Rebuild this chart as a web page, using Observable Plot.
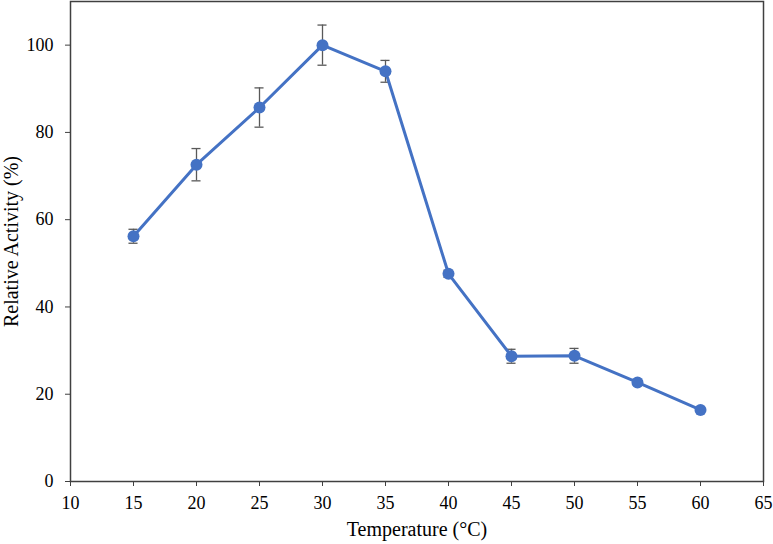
<!DOCTYPE html>
<html>
<head>
<meta charset="utf-8">
<script src="https://cdn.jsdelivr.net/npm/d3@7"></script>
<script src="https://cdn.jsdelivr.net/npm/@observablehq/plot@0.6"></script>
<style>
  html, body { margin: 0; padding: 0; background: white; }
</style>
</head>
<body>
<div id="chart"></div>
<script>
const temps = [15, 20, 25, 30, 35, 40, 45, 50, 55, 60];
const activity = [56.2, 72.6, 85.7, 100, 94.0, 47.6, 28.7, 28.8, 22.7, 16.4];
const errors = [1.6, 3.7, 4.5, 4.6, 2.5, 0.8, 1.6, 1.7, 0.5, 0.4];
const xTicks = [10, 15, 20, 25, 30, 35, 40, 45, 50, 55, 60, 65];
const yTicks = [0, 20, 40, 60, 80, 100];

const data = temps.map((t, i) => ({ t, a: activity[i], e: errors[i] }));
const capHalf = 0.36;
const blue = "#4472C4";
const grey = "#595959";

const chart = Plot.plot({
  width: 773,
  height: 544,
  marginLeft: 70,
  marginRight: 10,
  marginTop: 1,
  marginBottom: 63,
  x: { domain: [10, 65] },
  y: { domain: [0, 110] },
  style: { fontFamily: "Liberation Serif", fontSize: "18px", color: "black", background: "white" },
  marks: [
    Plot.axisX({ ticks: xTicks, tickSize: 5, tickFormat: () => "", stroke: "#404040", label: null }),
    Plot.text(xTicks, { x: d => d, text: d => String(d), frameAnchor: "bottom", dy: 22, lineAnchor: "middle",
      fontSize: 18, fill: "black" }),
    Plot.axisX({ ticks: [], tickSize: 0, label: "Temperature (°C)", labelAnchor: "center", labelOffset: 54,
      labelArrow: "none", fontSize: 20, fill: "black" }),
    Plot.axisY({ ticks: yTicks, tickSize: 5, tickFormat: () => "", stroke: "#404040", label: null }),
    Plot.text(yTicks, { y: d => d, text: d => String(d), frameAnchor: "left", dx: -17, textAnchor: "end",
      lineAnchor: "middle", fontSize: 18, fill: "black" }),
    Plot.axisY({ ticks: [], tickSize: 0, label: "Relative Activity (%)", labelAnchor: "center", labelOffset: 67,
      labelArrow: "none", fontSize: 20, fill: "black" }),
    Plot.ruleX(data, { x: "t", y1: d => d.a - d.e, y2: d => d.a + d.e, stroke: grey, strokeWidth: 1.3 }),
    Plot.ruleY(data, { y: d => d.a + d.e, x1: d => d.t - capHalf, x2: d => d.t + capHalf, stroke: grey, strokeWidth: 1.3 }),
    Plot.ruleY(data, { y: d => d.a - d.e, x1: d => d.t - capHalf, x2: d => d.t + capHalf, stroke: grey, strokeWidth: 1.3 }),
    Plot.line(data, { x: "t", y: "a", stroke: blue, strokeWidth: 3 }),
    Plot.dot(data, { x: "t", y: "a", r: 6, fill: blue, stroke: "none" }),
    Plot.frame({ stroke: "#404040", strokeWidth: 1.5 })
  ]
});
document.getElementById("chart").appendChild(chart);
</script>
</body>
</html>
